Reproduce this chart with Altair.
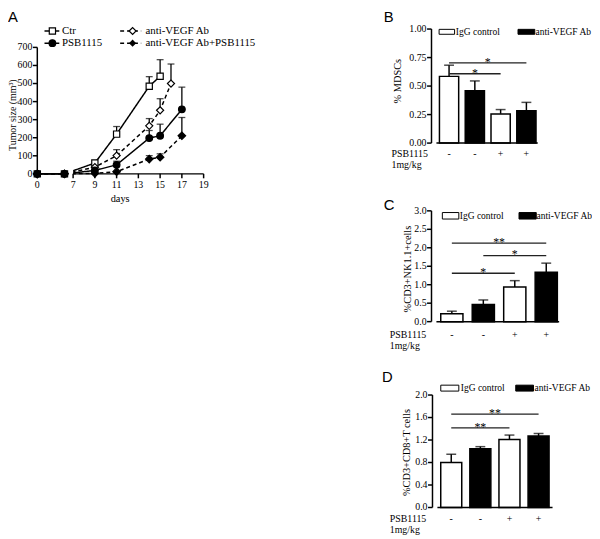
import altair as alt
import pandas as pd

W, H = 592, 531
SERIF = "Liberation Serif"
SANS = "Liberation Sans"

# ---------------- Panel A data ----------------
a_series = ["Ctr", "PSB1115", "anti-VEGF Ab", "anti-VEGF Ab+PSB1115"]
ctr_days = [0, 3, 9, 11, 14, 15]
ctr_mean = [0, 0, 60, 220, 485, 540]
ctr_err_days = [11, 14, 15]
ctr_err_upper = [262, 538, 632]

vegf_days = [0, 3, 9, 11, 14, 15, 16]
vegf_mean = [0, 0, 37, 101, 266, 352, 500]
vegf_err_days = [11, 14, 15, 16]
vegf_err_upper = [134, 306, 416, 608]

combo_days = [0, 3, 9, 11, 14, 15, 17]
combo_mean = [0, 0, 3, 12, 82, 92, 211]
combo_err_days = [14, 15, 17]
combo_err_upper = [101, 111, 312]

psb_days = [0, 3, 9, 11, 14, 15, 17]
psb_mean = [0, 0, 19, 50, 198, 211, 357]
psb_err_days = [11, 14, 15, 17]
psb_err_upper = [70, 240, 275, 480]

a_xticks = [0, 7, 9, 11, 13, 15, 17, 19]
a_yticks = [0, 100, 200, 300, 400, 500, 600, 700]
a_xbreak = [0, 3.3, 7, 19]          # broken axis: segment 0-3.3, then 7-19

# ---------------- Bar panels data ----------------
bar_groups = ["IgG control", "anti-VEGF Ab"]
bar_group_of = ["IgG control", "anti-VEGF Ab", "IgG control", "anti-VEGF Ab"]
psb_signs = ["-", "-", "+", "+"]

b_mean = [0.585, 0.458, 0.256, 0.283]
b_upper = [0.683, 0.545, 0.294, 0.357]
b_sig = [(0, 3, 0.703, "*"), (0, 2, 0.608, "*")]
b_yticks = [0, 0.25, 0.5, 0.75, 1.0]

c_mean = [0.214, 0.462, 0.935, 1.335]
c_upper = [0.283, 0.587, 1.11, 1.584]
c_sig = [(0, 3, 2.127, "**"), (1, 3, 1.79, "*"), (0, 2, 1.31, "*")]
c_yticks = [0, 0.5, 1.0, 1.5, 2.0, 2.5, 3.0]

d_mean = [0.802, 1.047, 1.211, 1.27]
d_upper = [0.947, 1.082, 1.288, 1.316]
d_sig = [(0, 3, 1.661, "**"), (0, 2, 1.416, "**")]
d_yticks = [0, 0.4, 0.8, 1.2, 1.6, 2.0]

one = pd.DataFrame({"a": [0]})
LW = 1.5


def y_axis(ys, ydom, ticks, fmt, ax_x, title, title_x, title_y, title_size=10.5):
    """Left axis drawn with marks through the panel's y scale."""
    dom = alt.Chart(pd.DataFrame({"y0": [ydom[0]], "y1": [ydom[1]]})).mark_rule(
        color="black", strokeWidth=LW).encode(
        x=alt.value(ax_x), y=alt.Y("y0:Q", scale=ys, axis=None), y2="y1")
    tdf = pd.DataFrame({"v": ticks})
    tk = alt.Chart(tdf).mark_rule(color="black", strokeWidth=LW).encode(
        x=alt.value(ax_x - 4.5), x2=alt.value(ax_x), y=alt.Y("v:Q", scale=ys, axis=None))
    lb = alt.Chart(tdf).mark_text(font=SERIF, fontSize=10, align="right", baseline="middle",
                                  color="black").encode(
        x=alt.value(ax_x - 5), y=alt.Y("v:Q", scale=ys, axis=None),
        text=alt.Text("v:Q", format=fmt))
    tt = alt.Chart(one).mark_text(text=title, font=SERIF, fontSize=title_size, angle=270,
                                  align="center", baseline="middle", color="black").encode(
        x=alt.value(title_x), y=alt.value(title_y))
    return [dom, tk, lb, tt]


# ---------------- Panel A ----------------
rows = []
err_rows = []
for name, days, mean, ed, eu in [
    ("Ctr", ctr_days, ctr_mean, ctr_err_days, ctr_err_upper),
    ("anti-VEGF Ab", vegf_days, vegf_mean, vegf_err_days, vegf_err_upper),
    ("anti-VEGF Ab+PSB1115", combo_days, combo_mean, combo_err_days, combo_err_upper),
    ("PSB1115", psb_days, psb_mean, psb_err_days, psb_err_upper),
]:
    for d, m in zip(days, mean):
        rows.append({"series": name, "day": d, "mean": m})
    for d, u in zip(ed, eu):
        err_rows.append({"series": name, "day": d, "mean": mean[days.index(d)], "upper": u})
dfA = pd.DataFrame(rows)
dfAerr = pd.DataFrame(err_rows)

xA = alt.Scale(domain=a_xbreak, range=[29.7, 60, 66, 198.3])
yA = alt.Scale(domain=[0, 700], range=[164.5, 36.3])

dash_scale = alt.Scale(domain=a_series, range=[[1, 0], [1, 0], [4, 3], [4, 3]])
shape_scale = alt.Scale(domain=a_series, range=["square", "circle", "diamond", "diamond"])
fill_scale = alt.Scale(domain=a_series, range=["white", "black", "white", "black"])
size_scale = alt.Scale(domain=a_series, range=[40, 58, 60, 30])

linesA = alt.Chart(dfA).mark_line(color="black", strokeWidth=1.5).encode(
    x=alt.X("day:Q", scale=xA, axis=None),
    y=alt.Y("mean:Q", scale=yA, axis=None),
    detail="series:N",
    strokeDash=alt.StrokeDash("series:N", scale=dash_scale, legend=None),
)
gapA = alt.Chart(pd.DataFrame({"x": [a_xbreak[1]], "x2": [a_xbreak[2]], "y": [-14], "y2": [45]})).mark_rect(
    color="white").encode(
    x=alt.X("x:Q", scale=xA, axis=None), x2="x2",
    y=alt.Y("y:Q", scale=yA, axis=None), y2="y2",
)
axisA = alt.Chart(pd.DataFrame({"x": [a_xbreak[0], a_xbreak[2]], "x2": [a_xbreak[1], a_xbreak[3]],
                                "y": [0, 0]})).mark_rule(color="black", strokeWidth=LW).encode(
    x=alt.X("x:Q", scale=xA, axis=None), x2="x2",
    y=alt.Y("y:Q", scale=yA, axis=None),
)
xtdf = pd.DataFrame({"v": a_xticks})
xticksA = alt.Chart(xtdf).mark_rule(color="black", strokeWidth=LW).encode(
    x=alt.X("v:Q", scale=xA, axis=None), y=alt.value(164.5), y2=alt.value(169))
xlabA = alt.Chart(xtdf).mark_text(font=SERIF, fontSize=10, baseline="middle", color="black").encode(
    x=alt.X("v:Q", scale=xA, axis=None), y=alt.value(176.3), text=alt.Text("v:Q", format="d"))
xtitleA = alt.Chart(one).mark_text(text="days", font=SERIF, fontSize=10.5, baseline="middle",
                                   color="black").encode(x=alt.value(113.7), y=alt.value(190.3))
errA = alt.Chart(dfAerr).mark_rule(color="black", strokeWidth=1.3).encode(
    x=alt.X("day:Q", scale=xA, axis=None),
    y=alt.Y("mean:Q", scale=yA, axis=None), y2="upper",
)
capA = alt.Chart(dfAerr).mark_tick(color="black", orient="horizontal", size=7, thickness=1.3).encode(
    x=alt.X("day:Q", scale=xA, axis=None),
    y=alt.Y("upper:Q", scale=yA, axis=None),
)
ptsA = alt.Chart(dfA).mark_point(filled=True, stroke="black", strokeWidth=1.2, opacity=1).encode(
    x=alt.X("day:Q", scale=xA, axis=None),
    y=alt.Y("mean:Q", scale=yA, axis=None),
    shape=alt.Shape("series:N", scale=shape_scale, legend=None),
    fill=alt.Fill("series:N", scale=fill_scale, legend=None),
    size=alt.Size("series:O", scale=size_scale, legend=None),
)
panelA = alt.layer(linesA, gapA, errA, capA, axisA, xticksA, xlabA, xtitleA, ptsA,
                   *y_axis(yA, [0, 700], a_yticks, "d", 29.7, "Tumor size (mm³)", 5.6, 105, 10))


# ---------------- Bar panels ----------------
def bar_panel(means, uppers, sig, xdom, xrng, ydom, yrng, yvals, yfmt, ytitle, title_x, title_y,
              barw, sign_y):
    df = pd.DataFrame({"pos": [0, 1, 2, 3], "mean": means, "upper": uppers,
                       "group": bar_group_of, "sign": psb_signs})
    xs = alt.Scale(domain=xdom, range=xrng)
    ys = alt.Scale(domain=ydom, range=yrng)
    err = alt.Chart(df).mark_rule(color="black", strokeWidth=1.5).encode(
        x=alt.X("pos:Q", scale=xs, axis=None),
        y=alt.Y("mean:Q", scale=ys, axis=None), y2="upper",
    )
    bars = alt.Chart(df).mark_bar(width=barw, stroke="black", strokeWidth=1.5, orient="vertical").encode(
        x=alt.X("pos:Q", scale=xs, axis=None),
        y=alt.Y("mean:Q", scale=ys, axis=None, stack=None),
        fill=alt.Fill("group:N", scale=alt.Scale(domain=bar_groups, range=["white", "black"]), legend=None),
    )
    cap = alt.Chart(df).mark_tick(color="black", orient="horizontal", size=10, thickness=1.5).encode(
        x=alt.X("pos:Q", scale=xs, axis=None),
        y=alt.Y("upper:Q", scale=ys, axis=None),
    )
    xdomrule = alt.Chart(pd.DataFrame({"x0": [xdom[0]], "x1": [xdom[1]], "y": [ydom[0]]})).mark_rule(
        color="black", strokeWidth=LW).encode(
        x=alt.X("x0:Q", scale=xs, axis=None), x2="x1",
        y=alt.Y("y:Q", scale=ys, axis=None))
    signs = alt.Chart(df).mark_text(font=SERIF, fontSize=10, baseline="middle", color="black").encode(
        x=alt.X("pos:Q", scale=xs, axis=None), y=alt.value(sign_y), text="sign:N")
    sdf = pd.DataFrame(sig, columns=["x1", "x2", "y", "label"])
    sdf["xm"] = (sdf["x1"] + sdf["x2"]) / 2
    sl = alt.Chart(sdf).mark_rule(color="#222222", strokeWidth=1.3).encode(
        x=alt.X("x1:Q", scale=xs, axis=None), x2="x2",
        y=alt.Y("y:Q", scale=ys, axis=None),
    )
    st = alt.Chart(sdf).mark_text(font=SERIF, fontSize=12, baseline="alphabetic", dy=3,
                                  color="black").encode(
        x=alt.X("xm:Q", scale=xs, axis=None),
        y=alt.Y("y:Q", scale=ys, axis=None),
        text="label:N",
    )
    return alt.layer(err, bars, cap, xdomrule, signs, sl, st,
                     *y_axis(ys, ydom, yvals, yfmt, xrng[0], ytitle, title_x, title_y))


panelB = bar_panel(b_mean, b_upper, b_sig, [-0.49, 3.44], [429.3, 542], [0, 1], [133.3, 17.7],
                   b_yticks, ".2f", "% MDSCs", 395, 70.5, 19.5, 144)
panelC = bar_panel(c_mean, c_upper, c_sig, [-0.49, 3.41], [429.3, 563.7], [0, 3], [314.3, 202],
                   c_yticks, ".1f", "%CD3+NK1.1+cells", 405.3, 261, 22.5, 327.7)
panelD = bar_panel(d_mean, d_upper, d_sig, [-0.475, 3.48], [430.3, 557], [0, 2], [502.7, 388.7],
                   d_yticks, ".1f", "%CD3+CD8+T cells", 404.7, 447, 21.3, 514.7)


# ---------------- Decorations (panel letters, legends, row labels) ----------------
def txt(s, x, y, size=10, font=SERIF, align="left"):
    return alt.Chart(one).mark_text(text=s, font=font, fontSize=size, align=align,
                                    baseline="middle", color="black").encode(
        x=alt.value(x), y=alt.value(y))


def box(x, x2, y, y2, fill):
    return alt.Chart(one).mark_rect(fill=fill, stroke="black", strokeWidth=1).encode(
        x=alt.value(x), x2=alt.value(x2), y=alt.value(y), y2=alt.value(y2))


def legline(x, x2, y, dash):
    return alt.Chart(one).mark_rule(color="black", strokeWidth=1.5, strokeDash=dash).encode(
        x=alt.value(x), x2=alt.value(x2), y=alt.value(y))


def legpt(x, y, shape, fill, size):
    return alt.Chart(one).mark_point(shape=shape, filled=True, fill=fill, stroke="black",
                                     strokeWidth=1.2, size=size, opacity=1).encode(
        x=alt.value(x), y=alt.value(y))


LEG = 9.6
deco = [
    txt("A", 0, 5.5, 15, SANS), txt("B", 381, 5.5, 15, SANS),
    txt("C", 381, 195.8, 15, SANS), txt("D", 379, 370.3, 15, SANS),
    # panel A legend
    legline(37, 52, 19.7, [1, 0]), legpt(45, 19.7, "square", "white", 40), txt(a_series[0], 54.7, 19.7, 11),
    legline(37, 52, 32, [1, 0]), legpt(45, 32, "circle", "black", 45), txt(a_series[1], 54.7, 32, 11),
    legline(113.7, 135, 19.7, [4, 3]), legpt(126.3, 19.7, "diamond", "white", 50), txt(a_series[2], 139.3, 19.7, 11),
    legline(113.7, 135, 32, [4, 3]), legpt(126.3, 32, "diamond", "black", 30), txt(a_series[3], 139.3, 32, 11),
    # panel B legend
    box(437, 452.7, 18, 23, "white"), txt(bar_groups[0], 454, 20.5, LEG),
    box(517, 534, 18, 23, "black"), txt(bar_groups[1], 534.7, 20.5, LEG),
    # panel C legend
    box(440.3, 457, 203.7, 210.3, "white"), txt(bar_groups[0], 458, 207, LEG),
    box(518, 535.5, 203.7, 210.3, "black"), txt(bar_groups[1], 535.7, 207, LEG),
    # panel D legend
    box(438.7, 457, 378.7, 384.7, "white"), txt(bar_groups[0], 459, 381.7, LEG),
    box(514.7, 532.7, 378.7, 384.7, "black"), txt(bar_groups[1], 533.7, 381.7, LEG),
    # PSB1115 row labels
    txt("PSB1115", 388.7, 144, 10), txt("1mg/kg", 388.7, 155.3, 10),
    txt("PSB1115", 387, 327.7, 10), txt("1mg/kg", 387, 339.3, 10),
    txt("PSB1115", 387, 514.7, 10), txt("1mg/kg", 387, 525.3, 10),
]

chart = alt.layer(panelA, panelB, panelC, panelD, *deco).resolve_scale(
    x="independent", y="independent", fill="independent", shape="independent",
    size="independent", strokeDash="independent",
).properties(
    width=W, height=H, padding=0, autosize=alt.AutoSizeParams(type="none"),
).configure_view(stroke=None)

chart.save("out.html", embed_options={"renderer": "svg", "actions": False})
